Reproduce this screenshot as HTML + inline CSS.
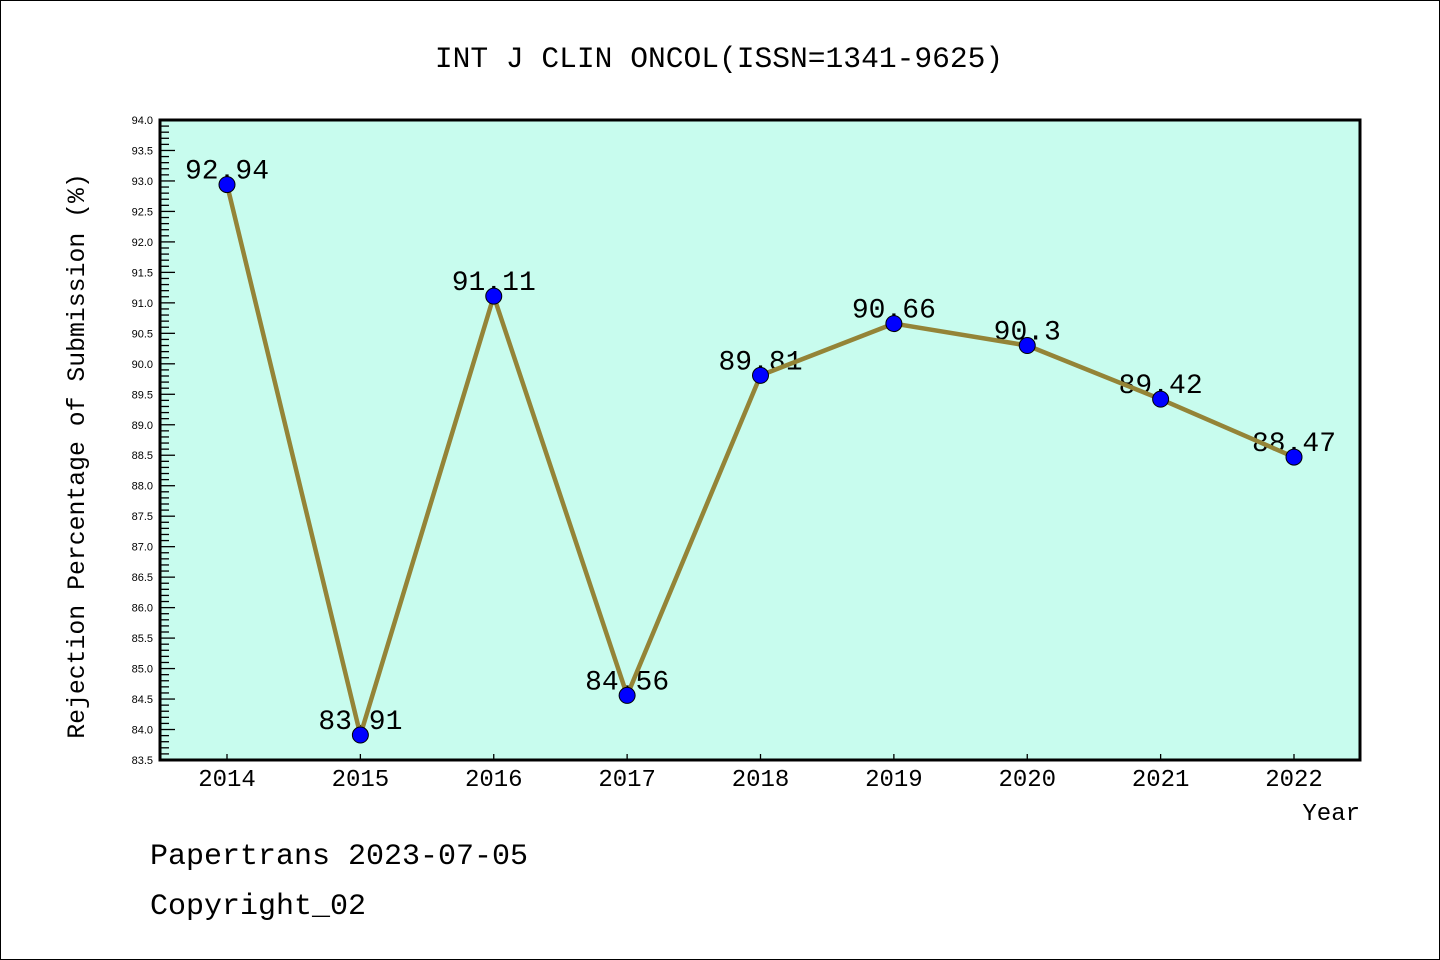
<!DOCTYPE html>
<html><head><meta charset="utf-8"><style>
html,body{margin:0;padding:0;background:#fff}
svg{display:block;font-family:"Liberation Mono","DejaVu Sans Mono",monospace}
</style></head><body>
<svg width="1440" height="960" xmlns="http://www.w3.org/2000/svg">
<rect x="0.5" y="0.5" width="1439" height="959" fill="#fff" stroke="#000" stroke-width="1"/>
<text x="719" y="67" text-anchor="middle" font-size="29.6" fill="#000">INT J CLIN ONCOL(ISSN=1341-9625)</text>
<rect x="160" y="120" width="1200" height="640" fill="#c8fcee"/>
<g id="yticks"></g>
<g id="xticks"></g>
<g id="labels"></g>
<g id="series"></g>
<rect x="160" y="120" width="1200" height="640" fill="none" stroke="#000" stroke-width="3"/>
<text transform="translate(84,456) rotate(-90)" text-anchor="middle" font-size="24.8" fill="#000">Rejection Percentage of Submission (%)</text>
<text x="1360" y="820" text-anchor="end" font-size="24" fill="#000">Year</text>
<text x="150" y="864" font-size="30" fill="#000">Papertrans 2023-07-05</text>
<text x="150" y="914" font-size="30" fill="#000">Copyright_02</text>
</svg>
<script>
const years = ["2014","2015","2016","2017","2018","2019","2020","2021","2022"];
const values = [92.94, 83.91, 91.11, 84.56, 89.81, 90.66, 90.3, 89.42, 88.47];
const valueLabels = ["92.94","83.91","91.11","84.56","89.81","90.66","90.3","89.42","88.47"];
const yMin = 83.5, yMax = 94.0;
const NS = "http://www.w3.org/2000/svg";
function xS(i){return 227 + i*(1294-227)/(years.length-1);}
function yS(v){return 120 + (yMax-v)/(yMax-yMin)*640;}
function mk(tag, attrs, parent){const e=document.createElementNS(NS,tag);for(const k in attrs)e.setAttribute(k,attrs[k]);parent.appendChild(e);return e;}
const yt=document.getElementById('yticks');
for(let k=0;k<=Math.round((yMax-yMin)*10);k++){
  const v=yMin+k*0.1, y=yS(v), major=(k%5===0);
  const t=mk('line',{x1:160,x2:160+(major?15:9),y1:y,y2:y,stroke:'#000','stroke-width':1.3},yt);
  
  
  if(major){
    const l=mk('text',{x:153,y:y+4,'text-anchor':'end','font-size':11,fill:'#000','font-family':'"Liberation Sans",sans-serif'},yt);
    l.textContent=v.toFixed(1);
    
    
  }
}
const xt=document.getElementById('xticks');
years.forEach((yr,i)=>{
  const x=xS(i);
  const t=mk('line',{x1:x,x2:x,y1:760,y2:754,stroke:'#000','stroke-width':1.3},xt);
  
  
  const l=mk('text',{x:x,y:786,'text-anchor':'middle','font-size':24,fill:'#000'},xt);
  l.textContent=yr;
  
  
});
const lg=document.getElementById('labels');
values.forEach((v,i)=>{
  const l=mk('text',{x:xS(i),y:yS(v)-6,'text-anchor':'middle','font-size':28,fill:'#000'},lg);
  l.textContent=valueLabels[i];
  
  
});
const sg=document.getElementById('series');
const pl=mk('polyline',{points:values.map((v,i)=>xS(i)+','+yS(v)).join(' '),fill:'none',stroke:'#948437','stroke-width':4.5,'stroke-linejoin':'round'},sg);


values.forEach((v,i)=>{
  const c=mk('circle',{cx:xS(i),cy:yS(v),r:8,fill:'#0000ff',stroke:'#000','stroke-width':1},sg);
  
  
});
</script>
</body></html>
